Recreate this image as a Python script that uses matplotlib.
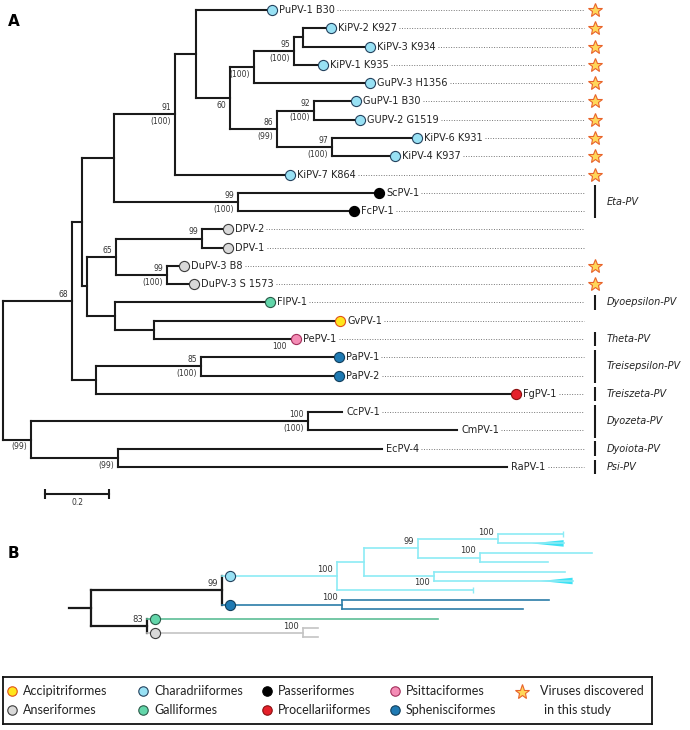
import matplotlib
matplotlib.use('Agg')
import matplotlib.pyplot as plt

plt.rcParams['font.family'] = ['DejaVu Sans']

# ---------------- data: panel A tree (nodes in pre-order) ----------------
# parent of each node, branch length (subst./site), tip name ('' = internal)
a_parent = [-1, 0, 1, 2, 3, 4, 5, 5, 7, 8,
            9, 10, 10, 9, 8, 7, 15, 16, 16, 15,
            19, 19, 4, 3, 23, 23, 2, 26, 27, 28,
            28, 27, 31, 31, 26, 34, 34, 36, 36, 1,
            39, 40, 40, 39, 0, 44, 45, 45, 44, 48, 48]
a_length = [0, 0.216, 0.031, 0.100, 0.191, 0.066, 0.222, 0.106, 0.075, 0.125,
            0.028, 0.072, 0.194, 0.075, 0.347, 0.147, 0.116, 0.116, 0.128, 0.172,
            0.250, 0.181, 0.344, 0.388, 0.425, 0.347, 0.016, 0.091, 0.269, 0.063,
            0.066, 0.159, 0.038, 0.069, 0.088, 0.469, 0.122, 0.566, 0.428, 0.075,
            0.328, 0.416, 0.416, 1.297, 0.088, 0.866, 0.106, 0.466, 0.272, 0.825, 1.216]
a_name = ['', '', '', '', '', '', 'PuPV-1 B30', '', '', '',
          '', 'KiPV-2 K927', 'KiPV-3 K934', 'KiPV-1 K935', 'GuPV-3 H1356', '', '', 'GuPV-1 B30', 'GUPV-2 G1519', '',
          'KiPV-6 K931', 'KiPV-4 K937', 'KiPV-7 K864', '', 'ScPV-1', 'FcPV-1', '', '', '', 'DPV-2',
          'DPV-1', '', 'DuPV-3 B8', 'DuPV-3 S 1573', '', 'FlPV-1', '', 'GvPV-1', 'PePV-1', '',
          '', 'PaPV-1', 'PaPV-2', 'FgPV-1', '', '', 'CcPV-1', 'CmPV-1', '', 'EcPV-4', 'RaPV-1']

# bootstrap support above / below the branch leading to a node
a_support_top = {1: '68', 4: '91', 9: '95', 15: '86', 16: '92', 19: '97', 23: '99',
                 27: '65', 28: '99', 31: '99', 40: '85', 45: '100'}
a_support_bot = {4: '(100)', 7: '60', 8: '(100)', 9: '(100)', 15: '(99)', 16: '(100)',
                 19: '(100)', 23: '(100)', 31: '(100)', 38: '100', 40: '(100)',
                 44: '(99)', 45: '(100)', 48: '(99)'}

host_tips = {
    'Charadriiformes': ['PuPV-1 B30', 'KiPV-2 K927', 'KiPV-3 K934', 'KiPV-1 K935', 'GuPV-3 H1356',
                        'GuPV-1 B30', 'GUPV-2 G1519', 'KiPV-6 K931', 'KiPV-4 K937', 'KiPV-7 K864'],
    'Passeriformes': ['ScPV-1', 'FcPV-1'],
    'Anseriformes': ['DPV-2', 'DPV-1', 'DuPV-3 B8', 'DuPV-3 S 1573'],
    'Galliformes': ['FlPV-1'],
    'Accipitriformes': ['GvPV-1'],
    'Psittaciformes': ['PePV-1'],
    'Sphenisciformes': ['PaPV-1', 'PaPV-2'],
    'Procellariiformes': ['FgPV-1'],
}
new_viruses = ['PuPV-1 B30', 'KiPV-2 K927', 'KiPV-3 K934', 'KiPV-1 K935', 'GuPV-3 H1356',
               'GuPV-1 B30', 'GUPV-2 G1519', 'KiPV-6 K931', 'KiPV-4 K937', 'KiPV-7 K864',
               'DuPV-3 B8', 'DuPV-3 S 1573']
genera = [('Eta-PV', 'ScPV-1', 'FcPV-1'),
          ('Dyoepsilon-PV', 'FlPV-1', 'FlPV-1'),
          ('Theta-PV', 'PePV-1', 'PePV-1'),
          ('Treisepsilon-PV', 'PaPV-1', 'PaPV-2'),
          ('Treiszeta-PV', 'FgPV-1', 'FgPV-1'),
          ('Dyozeta-PV', 'CcPV-1', 'CmPV-1'),
          ('Dyoiota-PV', 'EcPV-4', 'EcPV-4'),
          ('Psi-PV', 'RaPV-1', 'RaPV-1')]
scale_len = 0.2

# ---------------- data: panel B tree ----------------
b_parent = [-1, 0, 1, 2, 3, 4, 5, 5, 4, 8, 8, 3, 11, 11, 2, 1, 15, 15, 0, 18, 18, 20, 20]
b_length = [0, 0.409, 0.359, 0.084, 0.169, 0.250, 0.203, 0.206, 0.194, 0.350, 0.213, 0.219,
            0.409, 0.434, 0.425, 0.375, 0.647, 0.566, 0.175, 0.909, 0.488, 0.047, 0.047]
b_host = ['', '', 'Charadriiformes', 'Charadriiformes', 'Charadriiformes', 'Charadriiformes',
          'Charadriiformes', 'Charadriiformes', 'Charadriiformes', 'Charadriiformes',
          'Charadriiformes', 'Charadriiformes', 'Charadriiformes', 'Charadriiformes',
          'Charadriiformes', 'Sphenisciformes', 'Sphenisciformes', 'Sphenisciformes', '',
          'Galliformes', 'Anseriformes', 'Anseriformes', 'Anseriformes']
b_circle_nodes = [2, 15, 19, 20]
b_support_top = {1: '99', 2: '100', 4: '99', 5: '100', 8: '100', 15: '100', 18: '83', 20: '100'}
b_support_bot = {11: '100'}
b_stem = 0.069
b_tick_tips = [6, 14]
b_wedge_tips = [7, 13]

legend_hosts = ['Accipitriformes', 'Anseriformes', 'Charadriiformes', 'Galliformes',
                'Passeriformes', 'Procellariiformes', 'Psittaciformes', 'Sphenisciformes']

# ---------------- styles ----------------
host_color = {
    'Accipitriformes': ('#FFE61C', '#E0521A'),
    'Anseriformes': ('#D9D9D9', '#3C3C3C'),
    'Charadriiformes': ('#98E1F4', '#24425E'),
    'Galliformes': ('#63D6AA', '#2B5B49'),
    'Passeriformes': ('#000000', '#000000'),
    'Procellariiformes': ('#E5202A', '#8A1010'),
    'Psittaciformes': ('#F48CB5', '#A3305C'),
    'Sphenisciformes': ('#1F7AB3', '#123F5C'),
}
b_line_color = {'Charadriiformes': '#8CEBF5', 'Sphenisciformes': '#2B7DA8',
                'Galliformes': '#5CBD96', 'Anseriformes': '#C4C4C4', '': '#1a1a1a'}
star_face, star_edge = '#FFD75A', '#E8632B'
TREE = '#1a1a1a'
LEG_FONT = ['Lato', 'DejaVu Sans']

W, H = 690, 730
PX = 320.0      # pixels per substitution unit
ROW_A = 18.28   # pixels per row, panel A
ROW_B = 9.4


def layout(parent, length):
    n = len(parent)
    kids = [[] for _ in range(n)]
    for i, p in enumerate(parent):
        if p >= 0:
            kids[p].append(i)
    x = [0.0] * n
    for i in range(1, n):
        x[i] = x[parent[i]] + length[i]
    y = [0.0] * n
    row = [0]

    def walk(i):
        if not kids[i]:
            y[i] = row[0]
            row[0] += 1
        else:
            for k in kids[i]:
                walk(k)
            y[i] = (y[kids[i][0]] + y[kids[i][-1]]) / 2.0
    walk(0)
    return x, y, kids


fig = plt.figure(figsize=(W / 100, H / 100), dpi=100)

# ================= panel A =================
ax = fig.add_axes([0, 1 - 520 / H, 1, 520 / H])
ax.set_xlim(-3 / PX, (W - 3) / PX)
ax.set_ylim(510 / ROW_A, -10 / ROW_A)
ax.axis('off')

ax_x, ax_y, a_kids = layout(a_parent, a_length)
for i, p in enumerate(a_parent):
    if p >= 0:
        ax.plot([ax_x[p], ax_x[i]], [ax_y[i], ax_y[i]], color=TREE, lw=1.5,
                solid_capstyle='projecting')
    if a_kids[i]:
        ax.plot([ax_x[i], ax_x[i]], [ax_y[a_kids[i][0]], ax_y[a_kids[i][-1]]], color=TREE,
                lw=1.5, solid_capstyle='projecting')

for i, s in a_support_top.items():
    ax.annotate(s, (ax_x[i], ax_y[i]), xytext=(-3, 1.5), textcoords='offset points',
                ha='right', va='bottom', fontsize=5.5, color='#333333')
for i, s in a_support_bot.items():
    ax.annotate(s, (ax_x[i], ax_y[i]), xytext=(-3, -2), textcoords='offset points',
                ha='right', va='top', fontsize=5.5, color='#333333')

host_of = {}
for h, tips in host_tips.items():
    for t in tips:
        host_of[t] = h

row_of = {}
labels = []
for i, name in enumerate(a_name):
    if not name:
        continue
    row_of[name] = ax_y[i]
    if name in host_of:
        fc, ec = host_color[host_of[name]]
        ax.plot(ax_x[i] + 5 / PX, ax_y[i], 'o', ms=7.3, mfc=fc, mec=ec, mew=0.8, zorder=5)
        tx = ax_x[i] + 12 / PX
    else:
        tx = ax_x[i] + 4 / PX
    labels.append(ax.text(tx, ax_y[i], name, fontsize=7, va='center', ha='left',
                          color='#222222'))

dot_end = 581 / PX
fig.canvas.draw()
renderer = fig.canvas.get_renderer()
inv = ax.transData.inverted()
for t in labels:
    bb = t.get_window_extent(renderer)
    x0 = inv.transform((bb.x1, 0))[0] + 2 / PX
    ax.plot([x0, dot_end], [t.get_position()[1]] * 2, color='#777777', lw=0.7,
            linestyle=(0, (1, 1.6)))

mark_x = 592 / PX
for name in new_viruses:
    ax.plot(mark_x, row_of[name], marker='*', ms=10.5, mfc=star_face, mec=star_edge,
            mew=0.8, zorder=5)

for label, first, last in genera:
    y0, y1 = row_of[first] - 0.4, row_of[last] + 0.4
    ax.plot([mark_x, mark_x], [y0, y1], color=TREE, lw=1.5, solid_capstyle='butt')
    ax.text(604 / PX, (y0 + y1) / 2, label, fontsize=7, style='italic', va='center',
            ha='left', color='#222222')

sb_x, sb_y = 42 / PX, 484 / ROW_A
ax.plot([sb_x, sb_x + scale_len], [sb_y, sb_y], color=TREE, lw=1.5, marker='|', ms=7, mew=1.5)
ax.annotate('%.1f' % scale_len, (sb_x + scale_len / 2, sb_y), xytext=(0, -3),
            textcoords='offset points', ha='center', va='top', fontsize=5.5, color='#333333')

# ================= panel B =================
bx = fig.add_axes([0, 1 - 660 / H, 1, 140 / H])
bx.set_xlim(-91 / PX, (W - 91) / PX)
bx.set_ylim((660 - 534) / ROW_B, (520 - 534) / ROW_B)
bx.axis('off')

b_x, b_y, b_kids = layout(b_parent, b_length)
bx.plot([-b_stem, 0], [b_y[0], b_y[0]], color=TREE, lw=1.6, solid_capstyle='projecting')
for i, p in enumerate(b_parent):
    col = b_line_color[b_host[i]]
    lw = 1.6 if not b_host[i] else 1.2
    if p >= 0:
        bx.plot([b_x[p], b_x[i]], [b_y[i], b_y[i]], color=col, lw=lw, solid_capstyle='projecting')
    if b_kids[i]:
        bx.plot([b_x[i], b_x[i]], [b_y[b_kids[i][0]], b_y[b_kids[i][-1]]], color=col, lw=lw,
                solid_capstyle='projecting')

for i in b_tick_tips:
    bx.plot(b_x[i], b_y[i], marker='|', ms=4, mew=1, color=b_line_color[b_host[i]])
for i in b_wedge_tips:
    x1 = b_x[i]
    x0 = x1 - 0.1
    bx.fill([x0, x1, x1], [b_y[i], b_y[i] - 0.35, b_y[i] + 0.35], color='#3FE2F4', lw=0)

for i in b_circle_nodes:
    fc, ec = host_color[b_host[i]]
    bx.plot(b_x[b_parent[i]] + 8 / PX, b_y[i], 'o', ms=7.3, mfc=fc, mec=ec, mew=0.8, zorder=5)

for i, s in b_support_top.items():
    bx.annotate(s, (b_x[i], b_y[i]), xytext=(-3, 1.5), textcoords='offset points',
                ha='right', va='bottom', fontsize=6, color='#333333')
for i, s in b_support_bot.items():
    bx.annotate(s, (b_x[i], b_y[i]), xytext=(-3, -1.5), textcoords='offset points',
                ha='right', va='top', fontsize=6, color='#333333')

fig.text(8 / W, 1 - 22 / H, 'A', fontsize=11, fontweight='bold', va='center', ha='left')
fig.text(8 / W, 1 - 553 / H, 'B', fontsize=11, fontweight='bold', va='center', ha='left')

# ================= legend =================
lx = fig.add_axes([3 / W, 1 - 724 / H, 649 / W, 47 / H])
lx.set_xlim(0, 649)
lx.set_ylim(47, 0)
lx.set_xticks([])
lx.set_yticks([])
for sp in lx.spines.values():
    sp.set_linewidth(1.3)
    sp.set_color('#111111')

col_x = [9, 140, 264, 392]
row_y = [14, 33]
for k, h in enumerate(legend_hosts):
    cx, cy = col_x[k // 2], row_y[k % 2]
    fc, ec = host_color[h]
    lx.plot(cx, cy, 'o', ms=6.8, mfc=fc, mec=ec, mew=0.8)
    lx.text(cx + 11, cy, h, fontsize=9, family=LEG_FONT, va='center', ha='left',
            color='#222222')
lx.plot(519, 15, marker='*', ms=11, mfc=star_face, mec=star_edge, mew=0.8)
lx.text(537, 14, 'Viruses discovered', fontsize=9, family=LEG_FONT,
        va='center', ha='left', color='#222222')
lx.text(541, 33, 'in this study', fontsize=9, family=LEG_FONT,
        va='center', ha='left', color='#222222')

fig.savefig('out.png', dpi=100)
